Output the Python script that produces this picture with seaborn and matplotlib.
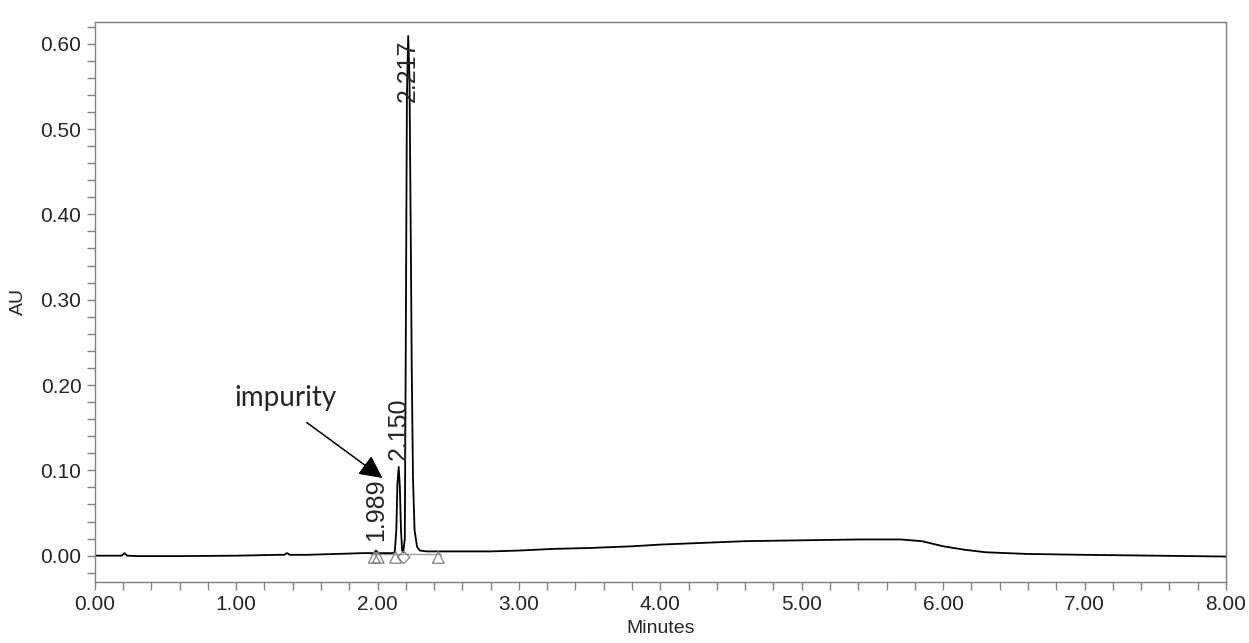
import matplotlib

matplotlib.use("Agg")
import matplotlib.pyplot as plt
import seaborn as sns
from matplotlib.ticker import FormatStrFormatter, MultipleLocator

# chromatogram trace (minutes, AU)
trace_min = [
    0.00, 0.10, 0.19, 0.21, 0.23, 0.30, 0.60, 1.00, 1.30, 1.34, 1.36, 1.38,
    1.50, 1.70, 1.90, 1.975, 1.989, 2.005, 2.10, 2.122, 2.133, 2.141, 2.150,
    2.158, 2.166, 2.174, 2.182, 2.193, 2.200, 2.208, 2.217, 2.226, 2.234,
    2.242, 2.251, 2.262, 2.280, 2.300, 2.350, 2.50, 2.80, 3.00, 3.25, 3.50,
    3.80, 4.00, 4.30, 4.60, 5.00, 5.40, 5.70, 5.85, 6.00, 6.15, 6.30, 6.60,
    7.00, 7.50, 8.00,
]
trace_au = [
    0.000, 0.000, 0.000, 0.003, 0.000, -0.0005, -0.0005, 0.000, 0.001, 0.001,
    0.003, 0.001, 0.001, 0.002, 0.003, 0.003, 0.006, 0.003, 0.003, 0.004,
    0.030, 0.085, 0.104, 0.080, 0.030, 0.006, 0.004, 0.020, 0.250, 0.540,
    0.609, 0.560, 0.400, 0.220, 0.090, 0.030, 0.010, 0.006, 0.005, 0.005,
    0.005, 0.006, 0.008, 0.009, 0.011, 0.013, 0.015, 0.017, 0.018, 0.019,
    0.019, 0.017, 0.011, 0.007, 0.004, 0.002, 0.001, 0.000, -0.001,
]

# integration baseline and peak start/stop markers
base_min = [1.95, 2.45]
base_au = [0.002, 0.002]
tri_min = [1.977, 2.005, 2.128, 2.430]
tri_au = [-0.002, -0.002, -0.002, -0.002]
dia_min = [2.185]
dia_au = [-0.002]

# retention time labels
peak_rt = [1.989, 2.150, 2.217]
peak_lbl = ["1.989", "2.150", "2.217"]
lbl_y = [0.017, 0.112, 0.532]

sns.set_style("white")
plt.rcParams["font.family"] = ["Liberation Sans", "DejaVu Sans"]

fig = plt.figure(figsize=(12.49, 6.43), dpi=100)
ax = fig.add_axes([0.0758, 0.0944, 0.9058, 0.8719])

ax.plot(base_min, base_au, color="#a0a0a0", lw=1.0, zorder=1)
sns.lineplot(x=trace_min, y=trace_au, color="black", lw=1.3, estimator=None,
             sort=False, ax=ax, zorder=2)
sns.scatterplot(x=tri_min, y=tri_au, marker="^", s=70, facecolor="none",
                edgecolor="#808080", linewidth=0.9, ax=ax, zorder=3)
sns.scatterplot(x=dia_min, y=dia_au, marker="D", s=40, facecolor="none",
                edgecolor="#808080", linewidth=0.9, ax=ax, zorder=3)

for rt, lbl, y in zip(peak_rt, peak_lbl, lbl_y):
    ax.text(rt, y, lbl, rotation=90, ha="center", va="bottom", fontsize=18)

ax.annotate("", xy=(2.035, 0.091), xytext=(1.50, 0.156),
            arrowprops=dict(arrowstyle="-|>,head_length=1.4,head_width=0.7",
                            color="black", lw=1.1, shrinkA=0, shrinkB=0))
ax.text(1.35, 0.185, "impurity", ha="center", va="center", fontsize=20,
        family=["Lato", "DejaVu Sans"])

ax.set_xlim(0, 8)
ax.set_ylim(-0.0312, 0.6258)
ax.xaxis.set_major_locator(MultipleLocator(1))
ax.xaxis.set_minor_locator(MultipleLocator(0.2))
ax.yaxis.set_major_locator(MultipleLocator(0.1))
ax.yaxis.set_minor_locator(MultipleLocator(0.02))
ax.xaxis.set_major_formatter(FormatStrFormatter("%.2f"))
ax.yaxis.set_major_formatter(FormatStrFormatter("%.2f"))

for side in ax.spines.values():
    side.set_color("#808080")
    side.set_linewidth(1.0)
ax.tick_params(which="both", direction="out", color="#808080", width=1.0,
               length=6, labelsize=15, bottom=True, left=True)
ax.tick_params(which="both", top=False, right=False)

ax.set_xlabel("Minutes", fontsize=14, labelpad=4)
ax.set_ylabel("AU", fontsize=14, labelpad=10)

fig.savefig("out.png", dpi=100)
